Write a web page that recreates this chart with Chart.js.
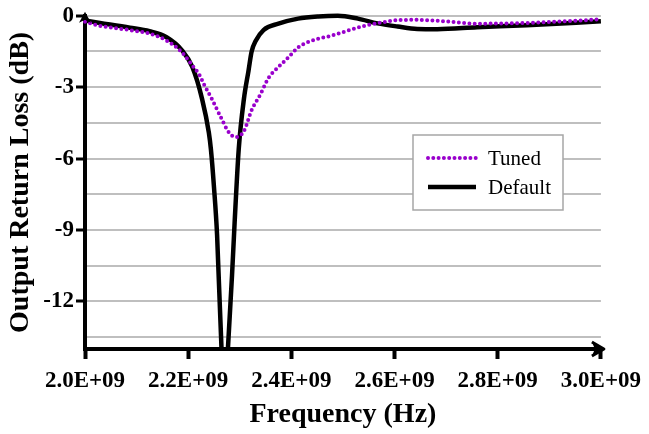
<!DOCTYPE html>
<html>
<head>
<meta charset="utf-8">
<script src="https://cdn.jsdelivr.net/npm/chart.js@4.4.1/dist/chart.umd.min.js"></script>
<style>
  html, body { margin: 0; padding: 0; background: #ffffff; }
  #wrap { width: 649px; height: 434px; position: relative; }
</style>
</head>
<body>
<div id="wrap"><canvas id="lossChart"></canvas></div>
<script>
// frequencies in GHz, return loss in dB
const freqTuned = [2.000, 2.029, 2.087, 2.125, 2.158, 2.188, 2.212, 2.221, 2.231, 2.246, 2.263, 2.279, 2.292,
    2.308, 2.323, 2.340, 2.356, 2.375, 2.394, 2.413, 2.446, 2.477, 2.510, 2.542, 2.573, 2.606, 2.644,
    2.702, 2.760, 2.856, 3.000];
const lossTuned = [-0.25, -0.42, -0.6, -0.75, -1.04, -1.54, -2.2, -2.45, -2.9, -3.5, -4.25, -4.9, -5.1,
    -4.85, -3.96, -3.3, -2.6, -2.15, -1.75, -1.33, -1.0, -0.84, -0.62, -0.42, -0.29, -0.18, -0.17,
    -0.24, -0.33, -0.3, -0.15];

const freqDefault = [2.000, 2.029, 2.087, 2.125, 2.158, 2.188, 2.208, 2.227, 2.240, 2.244, 2.250, 2.256,
    2.265, 2.271, 2.277, 2.285, 2.290, 2.298, 2.308, 2.317, 2.323, 2.331, 2.346, 2.375, 2.413, 2.452,
    2.490, 2.529, 2.567, 2.606, 2.644, 2.683, 2.760, 2.856, 3.000];
const lossDefault = [-0.2, -0.3, -0.5, -0.65, -0.9, -1.45, -2.15, -3.5, -4.9, -5.6, -7.2, -9.2,
    -14.2, -16, -14, -10.9, -8.7, -5.6, -3.5, -2.3, -1.5, -1.05, -0.6, -0.33, -0.12, -0.03,
    0.0, -0.12, -0.32, -0.45, -0.55, -0.56, -0.48, -0.4, -0.23];

const xTickValues = [2.0, 2.2, 2.4, 2.6, 2.8, 3.0];
const yGridValues = [0, -1.5, -3, -4.5, -6, -7.5, -9, -10.5, -12, -13.5];
const yLabelValues = [0, -3, -6, -9, -12];

const serif = "'Liberation Serif', 'Times New Roman', serif";
const purple = '#9900cc';

function toPoints(fs, ls) {
    return fs.map((f, i) => ({ x: f * 1e9, y: ls[i] }));
}

// arrowheads at the ends of both axes
const axisArrows = {
    id: 'axisArrows',
    afterDraw(chart) {
        const { ctx, chartArea } = chart;
        ctx.save();
        ctx.fillStyle = '#000';
        // y axis, pointing up
        const x0 = chartArea.left, yt = chartArea.top - 4;
        ctx.beginPath();
        ctx.moveTo(x0, yt);
        ctx.lineTo(x0 - 6, yt + 11);
        ctx.lineTo(x0, yt + 8);
        ctx.lineTo(x0 + 6, yt + 11);
        ctx.closePath();
        ctx.fill();
        // x axis, pointing right
        const xr = chartArea.right + 3, y0 = chartArea.bottom;
        ctx.beginPath();
        ctx.moveTo(xr, y0);
        ctx.lineTo(xr - 12, y0 - 7);
        ctx.lineTo(xr - 9, y0);
        ctx.lineTo(xr - 12, y0 + 7);
        ctx.closePath();
        ctx.fill();
        ctx.strokeStyle = '#000';
        ctx.lineWidth = 3;
        ctx.lineJoin = 'round';
        ctx.beginPath();
        ctx.moveTo(xr - 12, y0 - 7);
        ctx.lineTo(xr, y0);
        ctx.lineTo(xr - 12, y0 + 7);
        ctx.stroke();
        ctx.restore();
    }
};

// boxed legend inside the plot
const boxLegend = {
    id: 'boxLegend',
    afterDraw(chart) {
        const { ctx } = chart;
        const bx = 413, by = 135, bw = 150, bh = 75;
        ctx.save();
        ctx.fillStyle = '#fff';
        ctx.fillRect(bx, by, bw, bh);
        ctx.strokeStyle = '#a6a6a6';
        ctx.lineWidth = 1.5;
        ctx.strokeRect(bx, by, bw, bh);
        ctx.font = '21px ' + serif;
        ctx.textBaseline = 'middle';
        chart.data.datasets.forEach((ds, i) => {
            const y = by + 23 + i * 29;
            ctx.beginPath();
            ctx.strokeStyle = ds.borderColor;
            ctx.lineWidth = ds.borderWidth;
            ctx.lineCap = ds.borderCapStyle || 'butt';
            ctx.setLineDash(ds.borderDash || []);
            ctx.moveTo(428, y);
            ctx.lineTo(476, y);
            ctx.stroke();
            ctx.setLineDash([]);
            ctx.fillStyle = '#000';
            ctx.fillText(ds.label, 488, y + 1);
        });
        ctx.restore();
    }
};

new Chart(document.getElementById('lossChart'), {
    type: 'line',
    data: {
        datasets: [{
            label: 'Tuned',
            data: toPoints(freqTuned, lossTuned),
            borderColor: purple,
            borderWidth: 4,
            borderDash: [0, 5.3],
            borderCapStyle: 'round',
            pointRadius: 0,
            cubicInterpolationMode: 'monotone',
            clip: { left: 5, top: 6, right: 5, bottom: 0 }
        }, {
            label: 'Default',
            data: toPoints(freqDefault, lossDefault),
            borderColor: '#000000',
            borderWidth: 4.5,
            pointRadius: 0,
            cubicInterpolationMode: 'monotone',
            clip: { left: 5, top: 6, right: 5, bottom: 0 }
        }]
    },
    options: {
        responsive: true,
        maintainAspectRatio: false,
        animation: false,
        layout: { padding: { top: 15, right: 44, left: 0, bottom: 0 } },
        plugins: {
            legend: { display: false },
            tooltip: { enabled: false }
        },
        scales: {
            x: {
                type: 'linear',
                min: 2e9,
                max: 3e9,
                afterBuildTicks: scale => {
                    scale.ticks = xTickValues.map(v => ({ value: v * 1e9 }));
                },
                afterFit: scale => { scale.height = 85; },
                ticks: {
                    color: '#000',
                    font: { family: serif, size: 23, weight: 'bold' },
                    padding: 8,
                    maxRotation: 0,
                    callback: v => (v / 1e9).toFixed(1) + 'E+09'
                },
                grid: {
                    drawOnChartArea: false,
                    tickLength: 10,
                    tickWidth: 4,
                    tickColor: '#000'
                },
                border: { color: '#000', width: 4 },
                title: {
                    display: true,
                    text: 'Frequency (Hz)',
                    color: '#000',
                    font: { family: serif, size: 28, weight: 'bold' },
                    padding: { top: 0, bottom: 2 }
                }
            },
            y: {
                min: -14,
                max: 0,
                afterBuildTicks: scale => {
                    scale.ticks = yGridValues.map(v => ({ value: v }));
                },
                afterFit: scale => { scale.width = 85; },
                ticks: {
                    color: '#000',
                    font: { family: serif, size: 23, weight: 'bold' },
                    padding: 2,
                    callback: v => yLabelValues.includes(v) ? String(v) : ''
                },
                grid: {
                    color: '#bfbfbf',
                    lineWidth: 2,
                    tickLength: 9,
                    tickWidth: 3,
                    tickColor: c => yLabelValues.includes(c.tick.value) ? '#000' : 'rgba(0,0,0,0)'
                },
                border: { color: '#000', width: 4 },
                title: {
                    display: true,
                    text: 'Output Return Loss (dB)',
                    color: '#000',
                    font: { family: serif, size: 28, weight: 'bold' },
                    padding: { top: 4, bottom: 4 }
                }
            }
        }
    },
    plugins: [axisArrows, boxLegend]
});
</script>
</body>
</html>
